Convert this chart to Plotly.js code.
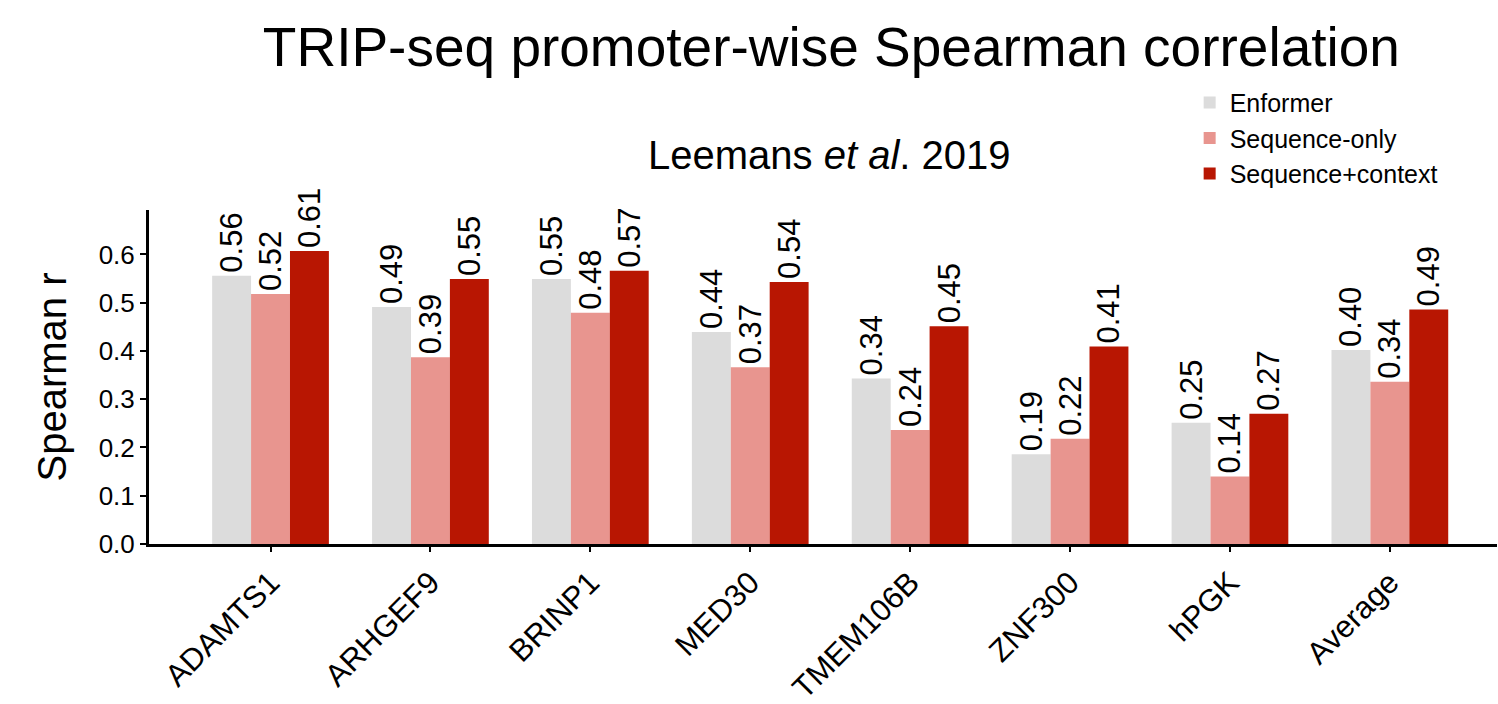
<!DOCTYPE html>
<html>
<head>
<meta charset="utf-8">
<script src="https://cdn.plot.ly/plotly-3.0.1.min.js"></script>
<style>html,body{margin:0;padding:0;background:#fff;}#chart{width:1498px;height:704px;}</style>
</head>
<body>
<div id="chart"></div>
<script>
const categories = ["ADAMTS1", "ARHGEF9", "BRINP1", "MED30", "TMEM106B", "ZNF300", "hPGK", "Average"];
const enformer = [0.556, 0.491, 0.549, 0.439, 0.343, 0.186, 0.251, 0.402];
const seqOnly = [0.518, 0.387, 0.479, 0.366, 0.236, 0.218, 0.140, 0.336];
const seqContext = [0.607, 0.549, 0.566, 0.543, 0.451, 0.409, 0.270, 0.486];
const seriesNames = ["Enformer", "Sequence-only", "Sequence+context"];
const seriesColors = ["#dcdcdc", "#e8958f", "#b81602"];
const yTicks = [0, 0.1, 0.2, 0.3, 0.4, 0.5, 0.6];

const FONT = "Liberation Sans, Arial, Helvetica, sans-serif";
const allSeries = [enformer, seqOnly, seqContext];
const traces = allSeries.map((vals, i) => ({
  type: "bar",
  name: seriesNames[i],
  x: categories,
  y: vals,
  marker: {color: seriesColors[i], line: {width: 0}},
  texttemplate: "%{y:.2f}",
  textposition: "outside",
  textangle: -90,
  constraintext: "none",
  cliponaxis: false,
  textfont: {family: FONT, size: 31, color: "#000"},
  hoverinfo: "skip"
}));

const layout = {
  width: 1498, height: 704,
  margin: {l: 149, r: 1, t: 210, b: 160},
  paper_bgcolor: "#fff", plot_bgcolor: "#fff",
  font: {family: FONT, color: "#000"},
  barmode: "group",
  bargap: 0.27,
  bargroupgap: 0,
  title: {
    text: "TRIP-seq promoter-wise Spearman correlation",
    font: {family: FONT, size: 55, color: "#000"},
    x: 0.555, xref: "container", xanchor: "center",
    y: 0.933, yref: "container", yanchor: "middle"
  },
  xaxis: {
    type: "category",
    range: [-0.76, 7.67],
    showline: true, linewidth: 3, linecolor: "#000",
    ticks: "outside", ticklen: 5, tickwidth: 2, tickcolor: "#000",
    tickangle: -45,
    tickfont: {family: FONT, size: 31, color: "#000"},
    showgrid: false, zeroline: false, fixedrange: true
  },
  yaxis: {
    range: [0, 0.692],
    tickvals: yTicks,
    tickformat: ".1f",
    showline: true, linewidth: 3, linecolor: "#000",
    ticks: "outside", ticklen: 6, tickwidth: 2, tickcolor: "#000",
    tickfont: {family: FONT, size: 26, color: "#000"},
    title: {text: "Spearman r", font: {family: FONT, size: 40, color: "#000"}, standoff: 20},
    showgrid: false, zeroline: false, fixedrange: true
  },
  legend: {
    x: 0.772, xanchor: "left", y: 1.39, yanchor: "top",
    font: {family: FONT, size: 25, color: "#000"},
    bgcolor: "rgba(0,0,0,0)",
    tracegroupgap: 0,
    traceorder: "normal"
  },
  annotations: [{
    text: "Leemans <i>et al</i>. 2019",
    xref: "paper", yref: "paper",
    x: 0.505, y: 1.165, xanchor: "center", yanchor: "middle",
    showarrow: false,
    font: {family: FONT, size: 40, color: "#000"}
  }],
  showlegend: true
};

Plotly.newPlot("chart", traces, layout, {displayModeBar: false, staticPlot: true});
</script>
</body>
</html>
